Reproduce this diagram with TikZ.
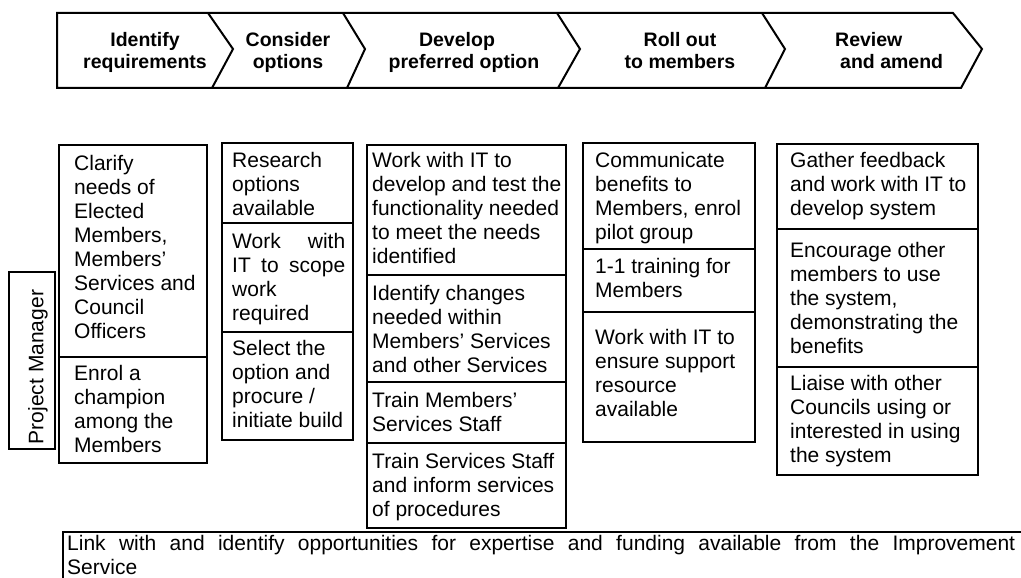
\documentclass[tikz,border=0pt]{standalone}
\usepackage{fontspec}
\setmainfont{Liberation Sans}
\newcommand\cellfont{\fontsize{21}{24}\selectfont}
\newcommand\hdrfont{\bfseries\fontsize{19.5}{21.5}\selectfont}
\begin{document}
\begin{tikzpicture}[x=1pt,y=-1pt,
  frame/.style={draw=black, line width=2pt, line join=miter},
  cell/.style={draw=black, line width=1.8pt},
  % text blocks are placed by the baseline of their last line
  txt/.style={anchor=base west, align=left, inner sep=0pt, font=\cellfont},
  hdr/.style={anchor=base, align=center, inner sep=0pt, font=\hdrfont}]
\useasboundingbox (0,0) rectangle (1021,578);
\clip (0,0) rectangle (1021,578);

% ---- process arrow along the top ----
\draw[frame] (57,13) -- (953,13) -- (982,49) -- (961,88) -- (57,88) -- cycle;
\draw[frame] (208,13) -- (233,49) -- (212,88);
\draw[frame] (343,13) -- (365,49) -- (347,88);
\draw[frame] (557,13) -- (580,49) -- (558,88);
\draw[frame] (762,13) -- (785,49) -- (765,88);

\node[hdr] (h1) at (145,68.5) {Identify\\requirements};
\node[hdr] (h2) at (288,68.5) {Consider\\options};
\node[hdr] (h3) at (464,68.5) {Develop\hspace*{14pt}\\preferred option};
\node[hdr] (h4) at (680,68.5) {Roll out\\to members};
\node[hdr, anchor=base west, align=left] (h5) at (835,68.5) {Review\\\hspace*{5pt}and amend};

% ---- role label ----
\draw[cell] (9,272) rectangle (55,449);
\node[font=\cellfont, rotate=90, inner sep=0pt] (pm) at (38,367) {Project Manager};

% ---- column 1: identify requirements ----
\draw[cell] (59,145) rectangle (207,463);
\draw[cell] (59,357) -- (207,357);
\node[txt] (c1a) at (74,338) {Clarify\\needs of\\Elected\\Members,\\Members’\\Services and\\Council\\Officers};
\node[txt] (c1b) at (74,452) {Enrol a\\champion\\among the\\Members};

% ---- column 2: consider options ----
\draw[cell] (222,143) rectangle (353,440);
\draw[cell] (222,223) -- (353,223);
\draw[cell] (222,332) -- (353,332);
\node[txt] (c2a) at (232,215) {Research\\options\\available};
\node[txt] (c2b) at (232,320) {\makebox[113pt][s]{Work\hfill with}\\\makebox[113pt][s]{IT\hfill to\hfill scope}\\work\\required};
\node[txt] (c2c) at (232,427) {Select the\\option and\\procure /\\initiate build};

% ---- column 3: develop preferred option ----
\draw[cell] (367,145) rectangle (566,528);
\draw[cell] (367,275) -- (566,275);
\draw[cell] (367,382) -- (566,382);
\draw[cell] (367,443) -- (566,443);
\node[txt] (c3a) at (372,263) {Work with IT to\\develop and test the\\functionality needed\\to meet the needs\\identified};
\node[txt] (c3b) at (372,372) {Identify changes\\needed within\\Members’ Services\\and other Services};
\node[txt] (c3c) at (372,431) {Train Members’\\Services Staff};
\node[txt] (c3d) at (372,516) {Train Services Staff\\and inform services\\of procedures};

% ---- column 4: roll out to members ----
\draw[cell] (583,143) rectangle (755,442);
\draw[cell] (583,249) -- (755,249);
\draw[cell] (583,312) -- (755,312);
\node[txt] (c4a) at (595,239) {Communicate\\benefits to\\Members, enrol\\pilot group};
\node[txt] (c4b) at (595,297) {1-1 training for\\Members};
\node[txt] (c4c) at (595,416) {Work with IT to\\ensure support\\resource\\available};

% ---- column 5: review and amend ----
\draw[cell] (777,144) rectangle (978,475);
\draw[cell] (777,229) -- (978,229);
\draw[cell] (777,367) -- (978,367);
\node[txt] (c5a) at (790,215) {Gather feedback\\and work with IT to\\develop system};
\node[txt] (c5b) at (790,353) {Encourage other\\members to use\\the system,\\demonstrating the\\benefits};
\node[txt] (c5c) at (790,462) {Liaise with other\\Councils using or\\interested in using\\the system};

% ---- cross-cutting task along the bottom ----
\draw[cell] (63,532) rectangle (1040,600);
\node[txt] (bt) at (67,574) {\makebox[948pt][s]{Link with and identify opportunities for expertise and funding available from the Improvement}\\Service};
\end{tikzpicture}
\end{document}
